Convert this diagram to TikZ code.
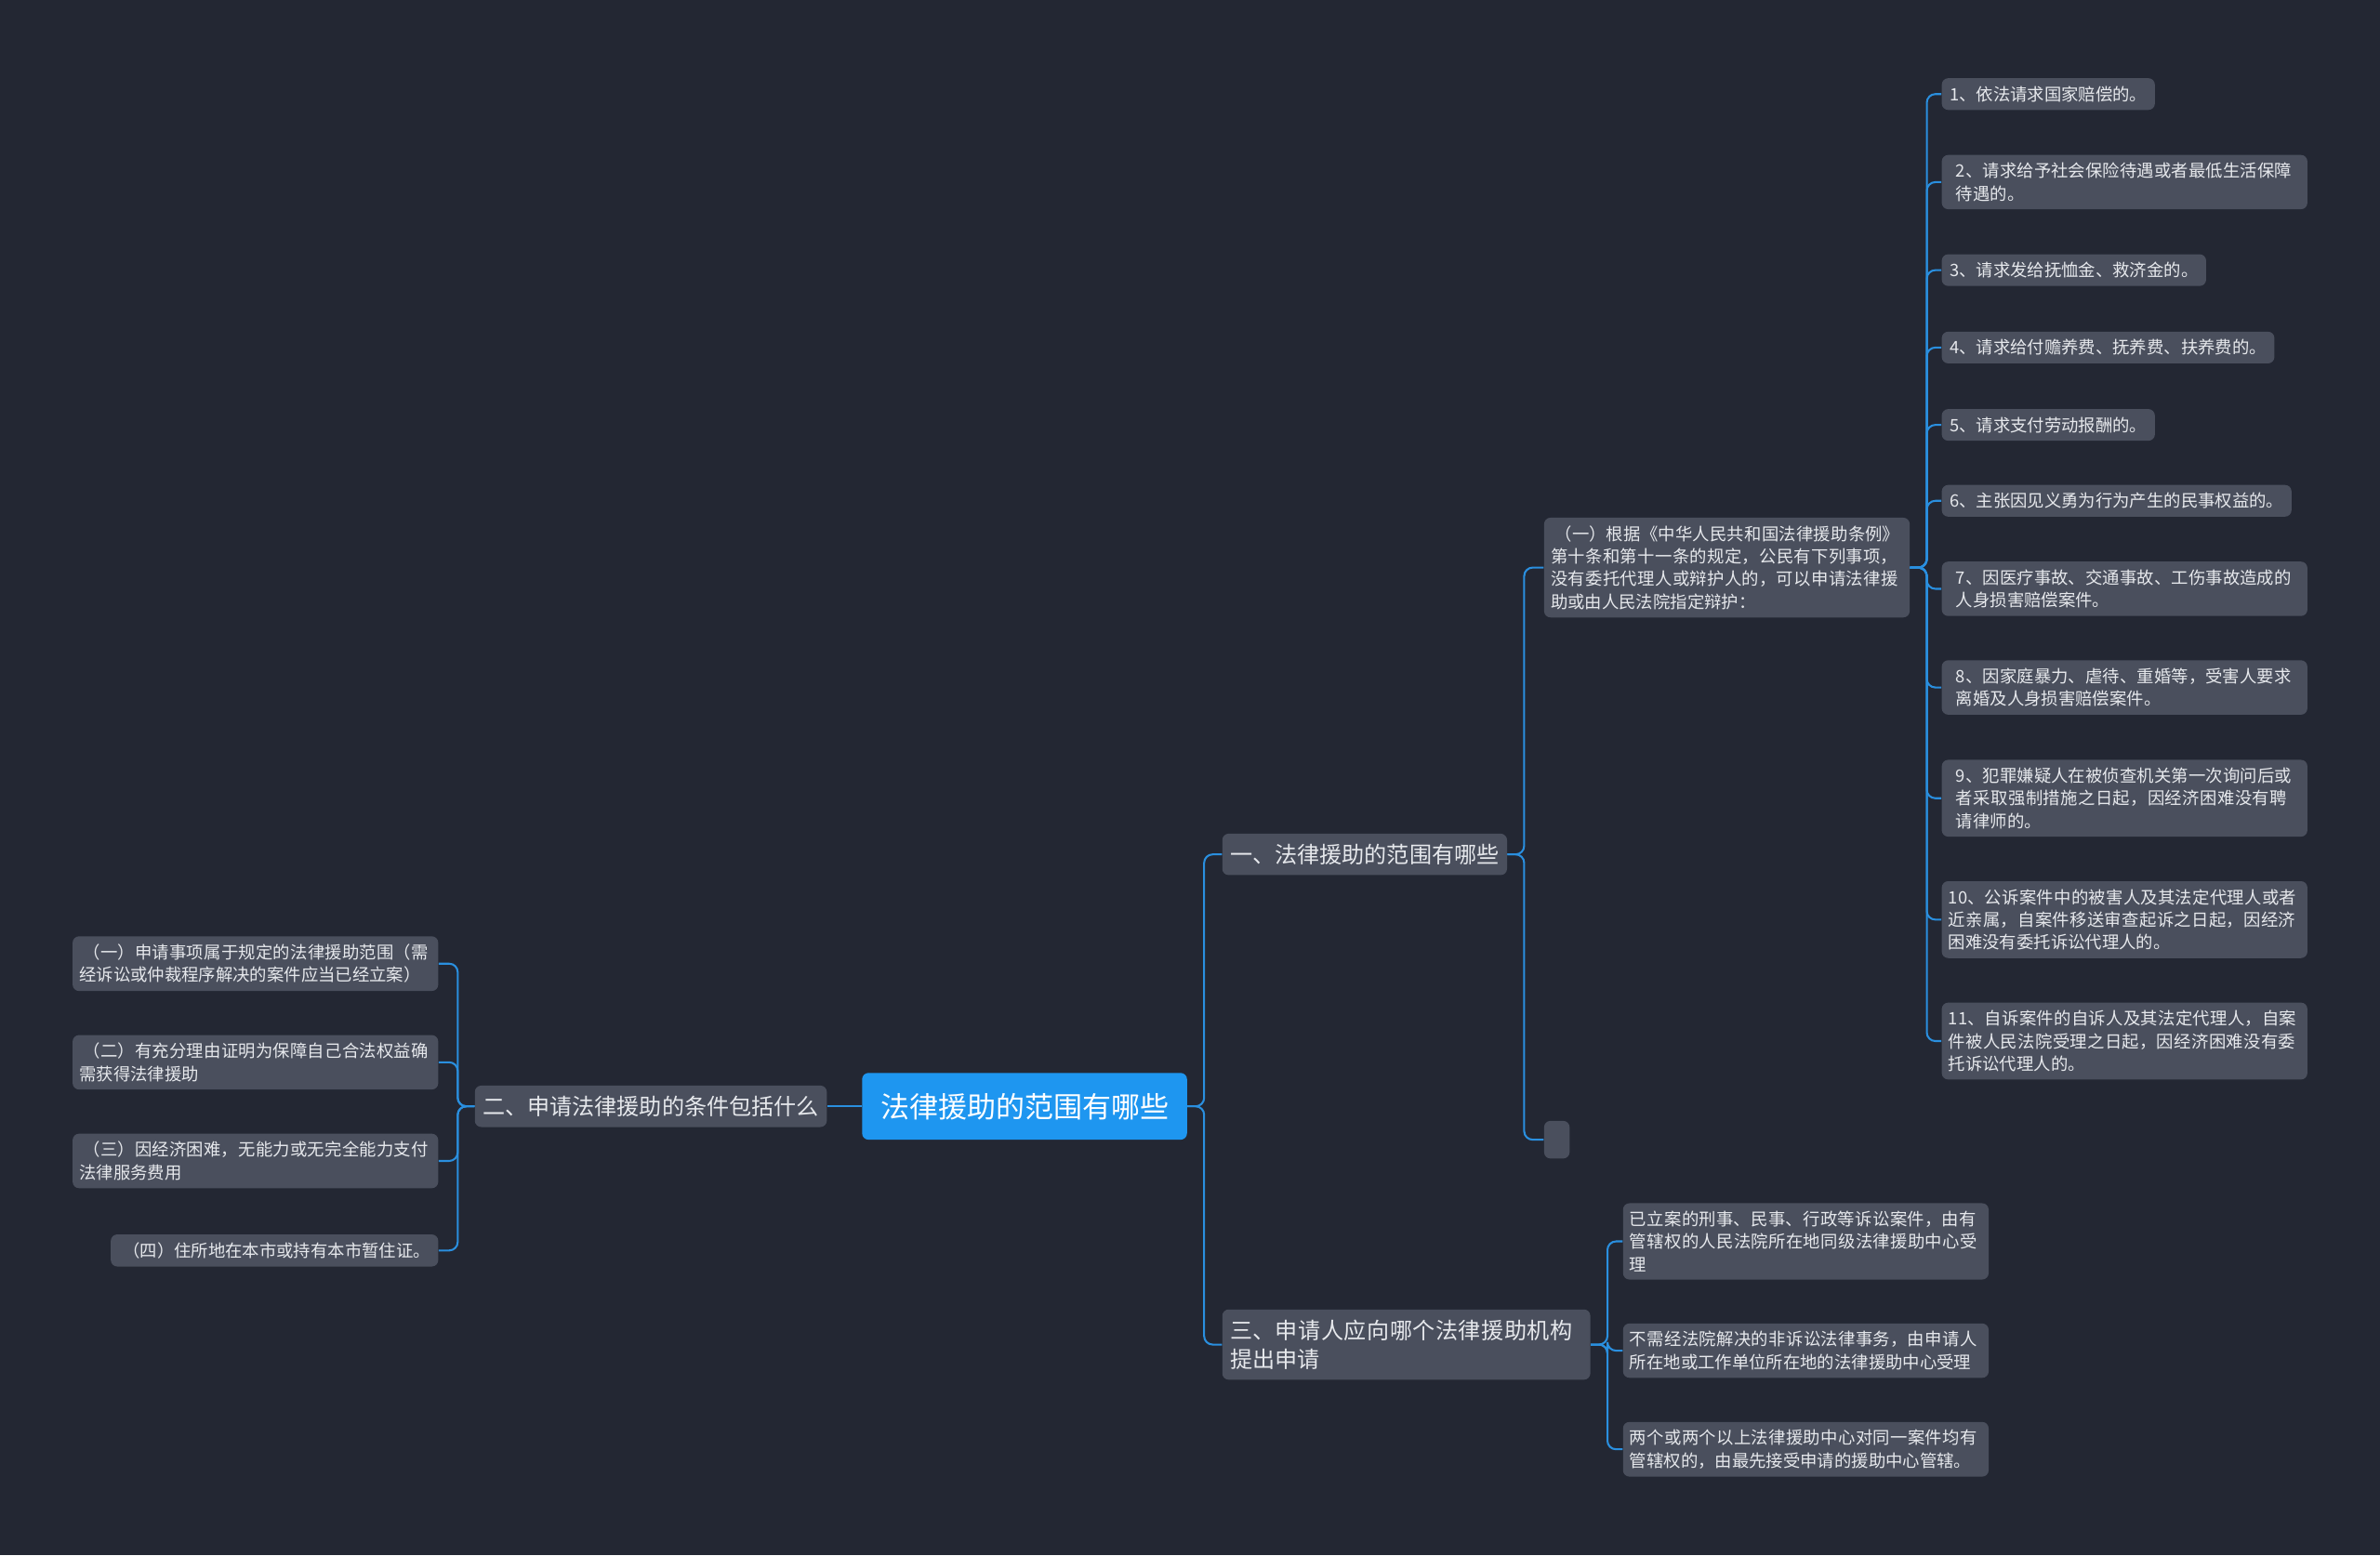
\documentclass[tikz,border=0pt]{standalone}
\usepackage{fontspec}
\setmainfont{Noto Sans CJK SC}
\XeTeXlinebreaklocale "zh"
\XeTeXlinebreakskip=0pt plus 1pt
\definecolor{bgdark}{HTML}{232733}
\definecolor{boxgrey}{HTML}{4A4F5D}
\definecolor{rootblue}{HTML}{1E96F0}
\definecolor{linkblue}{HTML}{2A8FDF}
\definecolor{txt}{HTML}{E6E8EC}
\tikzset{
  box/.style={fill=boxgrey, text=txt, rounded corners=3pt, inner sep=0.13cm, align=left},
  leaf/.style={box, font=\fontsize{8}{10.6}\selectfont},
  wide/.style={leaf, text width=5.8cm, inner xsep=0.11cm},
  narrow/.style={leaf, text width=5.55cm, inner xsep=0.11cm, minimum width=6.02cm},
  branch/.style={box, font=\fontsize{10.5}{13.5}\selectfont, inner ysep=0.17cm},
  link/.style={draw=linkblue, line width=0.9pt, rounded corners=4pt}
}
\newcommand\linkR[2]{\draw[link] (#1.east) -- ++(11,0) |- (#2.west);}
\newcommand\linkL[2]{\draw[link] (#1.west) -- ++(-11,0) |- (#2.east);}
\begin{document}
\begin{tikzpicture}[x=0.025cm, y=-0.025cm]
\fill[bgdark] (0,0) rectangle (1568,1025);
\useasboundingbox (0,0) rectangle (1568,1025);

% root
\node[box, fill=rootblue, text=white, font=\fontsize{13.5}{16}\selectfont, minimum height=1.1cm, minimum width=5.35cm, align=center] (root) at (675,729) {法律援助的范围有哪些};

% branches
\node[branch, anchor=west] (scope) at (805,563) {一、法律援助的范围有哪些};
\node[branch, anchor=east] (cond) at (545,729) {二、申请法律援助的条件包括什么};
\node[branch, anchor=west, text width=5.8cm] (where) at (805,886) {三、申请人应向哪个法律援助机构提出申请};

% scope
\node[wide, anchor=west] (rule) at (1017,374) {\hspace{0.25em}（一）根据《中华人民共和国法律援助条例》第十条和第十一条的规定，公民有下列事项，没有委托代理人或辩护人的，可以申请法律援助或由人民法院指定辩护：};
\node[box, anchor=west, minimum width=0.42cm, minimum height=0.62cm, inner sep=0pt] (blank) at (1017,751) {};

\node[leaf, anchor=west] (l1) at (1279,62) {1、依法请求国家赔偿的。};
\node[narrow, anchor=west] (l2) at (1279,120) {2、请求给予社会保险待遇或者最低生活保障待遇的。};
\node[leaf, anchor=west] (l3) at (1279,178) {3、请求发给抚恤金、救济金的。};
\node[leaf, anchor=west] (l4) at (1279,229) {4、请求给付赡养费、抚养费、扶养费的。};
\node[leaf, anchor=west] (l5) at (1279,280) {5、请求支付劳动报酬的。};
\node[leaf, anchor=west] (l6) at (1279,330) {6、主张因见义勇为行为产生的民事权益的。};
\node[narrow, anchor=west] (l7) at (1279,388) {7、因医疗事故、交通事故、工伤事故造成的人身损害赔偿案件。};
\node[narrow, anchor=west] (l8) at (1279,453) {8、因家庭暴力、虐待、重婚等，受害人要求离婚及人身损害赔偿案件。};
\node[narrow, anchor=west] (l9) at (1279,526) {9、犯罪嫌疑人在被侦查机关第一次询问后或者采取强制措施之日起，因经济困难没有聘请律师的。};
\node[wide, anchor=west] (l10) at (1279,606) {10、公诉案件中的被害人及其法定代理人或者近亲属，自案件移送审查起诉之日起，因经济困难没有委托诉讼代理人的。};
\node[wide, anchor=west] (l11) at (1279,686) {11、自诉案件的自诉人及其法定代理人，自案件被人民法院受理之日起，因经济困难没有委托诉讼代理人的。};

% conditions
\node[wide, anchor=east] (c1) at (289,635) {\hspace{0.25em}（一）申请事项属于规定的法律援助范围（需经诉讼或仲裁程序解决的案件应当已经立案）};
\node[wide, anchor=east] (c2) at (289,700) {\hspace{0.25em}（二）有充分理由证明为保障自己合法权益确需获得法律援助};
\node[wide, anchor=east] (c3) at (289,765) {\hspace{0.25em}（三）因经济困难，无能力或无完全能力支付法律服务费用};
\node[leaf, anchor=east] (c4) at (289,824) {\hspace{0.25em}（四）住所地在本市或持有本市暂住证。};

% where
\node[wide, anchor=west] (w1) at (1069,818) {已立案的刑事、民事、行政等诉讼案件，由有管辖权的人民法院所在地同级法律援助中心受理};
\node[wide, anchor=west] (w2) at (1069,890) {不需经法院解决的非诉讼法律事务，由申请人所在地或工作单位所在地的法律援助中心受理};
\node[wide, anchor=west] (w3) at (1069,955) {两个或两个以上法律援助中心对同一案件均有管辖权的，由最先接受申请的援助中心管辖。};

% links
\linkR{root}{scope}
\linkR{root}{where}
\draw[link] (root.west) -- (cond.east);
\linkR{scope}{rule}
\linkR{scope}{blank}
\foreach \n in {l1,l2,l3,l4,l5,l6,l7,l8,l9,l10,l11} {\linkR{rule}{\n}}
\foreach \n in {c1,c2,c3,c4} {\linkL{cond}{\n}}
\foreach \n in {w1,w2,w3} {\linkR{where}{\n}}
\end{tikzpicture}
\end{document}
